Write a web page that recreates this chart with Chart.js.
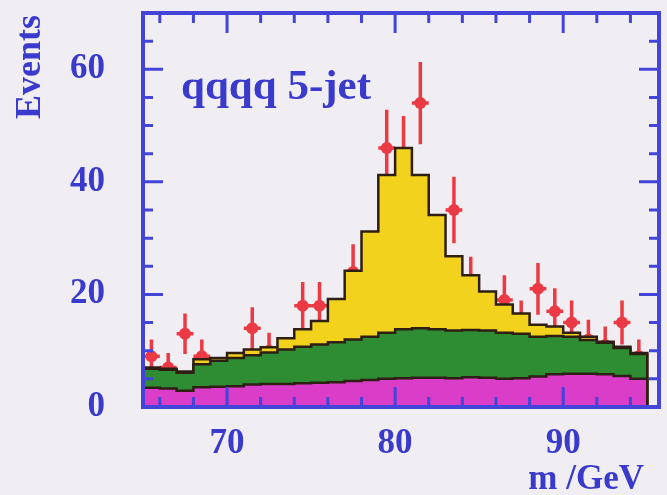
<!DOCTYPE html>
<html>
<head>
<meta charset="utf-8">
<script src="https://cdn.jsdelivr.net/npm/chart.js@4.4.0/dist/chart.umd.min.js"></script>
<style>
  html, body { margin: 0; padding: 0; background: #f0eef2; }
  #wrap { width: 667px; height: 495px; }
</style>
</head>
<body>
<div id="wrap"><canvas id="c" width="667" height="495"></canvas></div>
<script>
// bin edges of the histogram (GeV)
const binEdges = [65, 66, 67, 68, 69, 70, 71, 72, 73, 74, 75, 76, 77, 78, 79, 80,
                  81, 82, 83, 84, 85, 86, 87, 88, 89, 90, 91, 92, 93, 94, 95];
// bin centres for the data points
const dataX = [65.5, 66.5, 67.5, 68.5, 69.5, 70.5, 71.5, 72.5, 73.5, 74.5, 75.5, 76.5,
               77.5, 78.5, 79.5, 80.5, 81.5, 82.5, 83.5, 84.5, 85.5, 86.5, 87.5, 88.5,
               89.5, 90.5, 91.5, 92.5, 93.5, 94.5];

// stacked histogram tops (cumulative), one value per bin
const totalTop = [7.0, 6.8, 6.3, 8.5, 8.7, 9.6, 10.2, 10.6, 12.2, 13.8, 15.3, 19.2, 24.2, 31.2, 41.2,
                  46.0, 41.2, 34.1, 26.8, 23.4, 20.5, 18.2, 16.6, 14.6, 14.3, 13.2, 12.5, 11.6, 10.7, 9.6];
const greenTop = [6.8, 6.6, 6.1, 7.6, 8.2, 8.7, 9.2, 9.7, 10.2, 10.7, 11.1, 11.5, 12.0, 12.5, 13.2,
                  13.8, 14.0, 13.8, 13.6, 13.7, 13.6, 13.2, 13.0, 12.5, 12.6, 12.5, 11.9, 11.4, 10.5, 9.4];
const magentaTop = [3.4, 3.3, 2.9, 3.5, 3.6, 3.7, 4.0, 4.1, 4.1, 4.2, 4.3, 4.4, 4.6, 4.8, 5.0,
                    5.1, 5.2, 5.2, 5.1, 5.3, 5.2, 5.0, 5.1, 5.4, 5.8, 5.9, 5.9, 5.8, 5.5, 5.0];

// measured events and their errors
const dataVals = [9, 7, 13, 9, 6, 7, 14, 10, 8, 18, 18, 14, 24, 25, 46,
                  45, 54, 27, 35, 22, 15, 19, 15, 21, 17, 15, 12, 11, 15, 9];
const dataErr = [3, 2.6, 3.6, 3, 2.4, 2.6, 3.7, 3.2, 2.8, 4.2, 4.2, 3.7, 4.9, 5, 6.8,
                 6.7, 7.3, 5.2, 5.9, 4.7, 3.9, 4.4, 3.9, 4.6, 4.1, 3.9, 3.5, 3.3, 3.9, 3];

const xTickLabels = [70, 80, 90];
const yTickLabels = [0, 20, 40, 60];
const xMinorTicks = [66, 68, 70, 72, 74, 76, 78, 80, 82, 84, 86, 88, 90, 92, 94];
const yMinorTicks = [5, 10, 15, 20, 25, 30, 35, 40, 45, 50, 55, 60, 65];

const BLUE = '#4444d8';
const TEXT_BLUE = '#3a3acc';
const RED = '#ec3a44';
const OUTLINE = '#2e1e14';
const SERIF = '"Liberation Serif", "Times New Roman", serif';

function stepPoints(tops) {
    const pts = tops.map((v, i) => ({ x: binEdges[i], y: v }));
    const last = binEdges[binEdges.length - 1];
    pts.push({ x: last, y: tops[tops.length - 1] });
    pts.push({ x: last, y: 0 });
    return pts;
}

function histDataset(label, tops, color, order) {
    return {
        label: label,
        data: stepPoints(tops),
        stepped: true,
        fill: 'origin',
        backgroundColor: color,
        borderColor: OUTLINE,
        borderWidth: 2.5,
        pointRadius: 0,
        order: order
    };
}

// no extra padding for tick labels, the plot frame is placed by hand
function noScalePadding(s) {
    s.paddingTop = 0;
    s.paddingBottom = 0;
    s.paddingLeft = 0;
    s.paddingRight = 0;
}

// background
const bgPlugin = {
    id: 'bg',
    beforeDraw(chart) {
        const ctx = chart.ctx;
        ctx.save();
        ctx.fillStyle = '#f0eef2';
        ctx.fillRect(0, 0, chart.width, chart.height);
        ctx.restore();
    }
};

// error bars, drawn behind the histogram
const errorBarPlugin = {
    id: 'errorBars',
    beforeDatasetsDraw(chart) {
        const ctx = chart.ctx;
        const xs = chart.scales.x, ys = chart.scales.y;
        const area = chart.chartArea;
        ctx.save();
        ctx.beginPath();
        ctx.rect(area.left, area.top, area.right - area.left, area.bottom - area.top);
        ctx.clip();
        ctx.strokeStyle = RED;
        ctx.lineWidth = 3.5;
        dataX.forEach((x, i) => {
            const px = xs.getPixelForValue(x);
            ctx.beginPath();
            ctx.moveTo(px, ys.getPixelForValue(dataVals[i] - dataErr[i]));
            ctx.lineTo(px, ys.getPixelForValue(dataVals[i] + dataErr[i]));
            const py = ys.getPixelForValue(dataVals[i]);
            ctx.moveTo(xs.getPixelForValue(x - 0.5), py);
            ctx.lineTo(xs.getPixelForValue(x + 0.5), py);
            ctx.stroke();
        });
        ctx.restore();
    }
};

// frame with inward ticks on all four sides
const framePlugin = {
    id: 'frame',
    afterDatasetsDraw(chart) {
        const ctx = chart.ctx;
        const xs = chart.scales.x, ys = chart.scales.y;
        const a = chart.chartArea;
        ctx.save();
        ctx.strokeStyle = BLUE;
        ctx.lineWidth = 3;
        ctx.beginPath();
        xMinorTicks.forEach(v => {
            const px = xs.getPixelForValue(v);
            const len = xTickLabels.includes(v) ? 20 : 10;
            ctx.moveTo(px, a.top); ctx.lineTo(px, a.top + len);
            ctx.moveTo(px, a.bottom); ctx.lineTo(px, a.bottom - len);
        });
        yMinorTicks.forEach(v => {
            const py = ys.getPixelForValue(v);
            const len = yTickLabels.includes(v) ? 20 : 10;
            ctx.moveTo(a.left, py); ctx.lineTo(a.left + len, py);
            ctx.moveTo(a.right, py); ctx.lineTo(a.right - len, py);
        });
        ctx.stroke();
        ctx.lineWidth = 4;
        ctx.strokeRect(a.left, a.top, a.right - a.left, a.bottom - a.top);
        ctx.restore();
    }
};

// axis titles and the channel label
const textPlugin = {
    id: 'texts',
    afterDraw(chart) {
        const ctx = chart.ctx;
        ctx.save();
        ctx.fillStyle = TEXT_BLUE;
        ctx.font = 'bold 43px ' + SERIF;
        ctx.textAlign = 'left';
        ctx.textBaseline = 'alphabetic';
        ctx.fillText('qqqq 5-jet', 181, 99);

        ctx.font = 'bold 35px ' + SERIF;
        ctx.textAlign = 'right';
        ctx.fillText('m /GeV', 644, 489);

        ctx.translate(40, 67);
        ctx.rotate(-Math.PI / 2);
        ctx.font = 'bold 36px ' + SERIF;
        ctx.textAlign = 'center';
        ctx.fillText('Events', 0, 0);
        ctx.restore();
    }
};

const tickFont = { family: SERIF, weight: 'bold', size: 35 };

new Chart(document.getElementById('c'), {
    type: 'line',
    data: {
        datasets: [
            histDataset('total', totalTop, '#f2d21c', 3),
            histDataset('background', greenTop, '#2e8c32', 2),
            histDataset('4f', magentaTop, '#da3ec8', 1),
            {
                label: 'data',
                data: dataX.map((x, i) => ({ x: x, y: dataVals[i] })),
                showLine: false,
                pointRadius: 6,
                pointBackgroundColor: RED,
                pointBorderColor: RED,
                borderWidth: 0,
                order: 10
            }
        ]
    },
    options: {
        responsive: false,
        animation: false,
        layout: { padding: { top: 13, right: 8, left: 0, bottom: 0 } },
        plugins: {
            legend: { display: false },
            tooltip: { enabled: false }
        },
        scales: {
            x: {
                type: 'linear',
                min: 65,
                max: 95.7,
                afterBuildTicks: s => { s.ticks = xTickLabels.map(v => ({ value: v })); },
                afterFit: s => { s.height = 88; noScalePadding(s); },
                ticks: { font: tickFont, color: TEXT_BLUE, padding: 8, maxRotation: 0, autoSkip: false },
                grid: { display: false },
                border: { display: false }
            },
            y: {
                min: 0,
                max: 70,
                afterBuildTicks: s => { s.ticks = yTickLabels.map(v => ({ value: v })); },
                afterFit: s => { s.width = 143; noScalePadding(s); },
                ticks: { font: tickFont, color: TEXT_BLUE, padding: 30 },
                grid: { display: false },
                border: { display: false }
            }
        }
    },
    plugins: [bgPlugin, errorBarPlugin, framePlugin, textPlugin]
});
</script>
</body>
</html>
